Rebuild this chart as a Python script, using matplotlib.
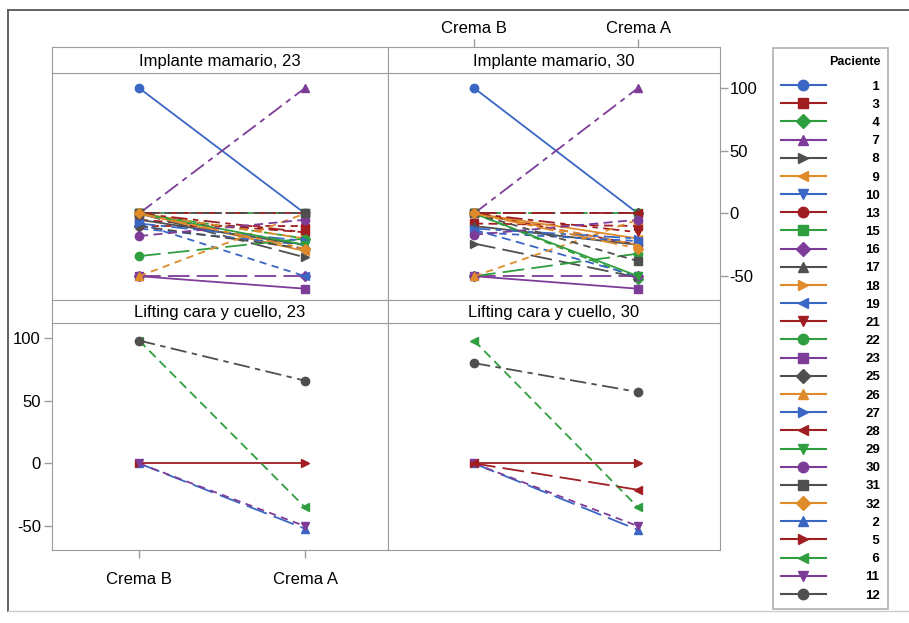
import numpy as np
import matplotlib.pyplot as plt
from matplotlib.lines import Line2D

plt.rcParams['font.family'] = ['Liberation Sans', 'DejaVu Sans']
plt.rcParams['axes.unicode_minus'] = False

tratamientos = ['Crema B', 'Crema A']

# orden de la leyenda (Minitab asigna color / simbolo / linea en este orden)
pacientes = [1, 3, 4, 7, 8, 9, 10, 13, 15, 16, 17, 18, 19, 21, 22,
             23, 25, 26, 27, 28, 29, 30, 31, 32, 2, 5, 6, 11, 12]

# Implante mamario
impl_pac = [1, 3, 4, 7, 8, 9, 10, 13, 15, 16, 17, 18, 19, 21, 22,
            23, 25, 26, 27, 28, 29, 30, 31, 32]
impl23_b = [100, -5, 0, 0, 0, 0, -12, -10, 0, -50, -5, 0, -8, 0, -34,
            -50, -10, -50, -8, 0, 0, -18, 0, 0]
impl23_a = [0, -15, -20, 100, -35, -30, -25, -10, 0, -50, -25, -20, -50, -15, -20,
            -60, -28, 0, -22, 0, -25, -5, 0, -28]
impl30_b = [100, -8, 0, 0, -24, 0, -13, 0, 0, -50, -10, 0, -15, 0, -50,
            -50, 0, -50, -12, 0, 0, -17, 0, 0]
impl30_a = [0, -10, -52, 100, -51, -20, -50, -25, 0, -50, -25, -25, -22, -15, -32,
            -60, 0, -5, -20, 0, -50, -5, -38, -28]

# Lifting cara y cuello
lift23_pac = [2, 5, 6, 11, 12]
lift23_b = [0, 0, 98, 0, 98]
lift23_a = [-52, 0, -35, -50, 66]
lift30_pac = [2, 5, 6, 11, 12, 28]
lift30_b = [0, 0, 98, 0, 80, 0]
lift30_a = [-53, 0, -35, -50, 57, -21]

colores = ['#3a66c4', '#a01e22', '#2f9e3f', '#7d3c98', '#4f4f4f', '#e08b2a']
marcadores = ['o', 's', 'D', '^', '>', '<', 'v']
lineas = ['-', (0, (5, 3)), (0, (4, 3)), (0, (9, 3, 3, 3)), (0, (12, 4))]
gris = '#a29a9a'


def estilo(p):
    i = pacientes.index(p)
    m = marcadores[i % 7]
    return dict(color=colores[i % 6], marker=m, ls=lineas[i % 5],
                ms=5 if m == 'D' else 6)


W, H = 909, 623
fig = plt.figure(figsize=(W / 100, H / 100), dpi=100)


def rect(x0, y0, x1, y1):
    return [x0 / W, 1 - y1 / H, (x1 - x0) / W, (y1 - y0) / H]


cols = [(52, 388), (388, 720)]
rows = [(47, 73, 300), (300, 323, 550)]
paneles = [
    ('Implante mamario, 23', impl_pac, impl23_b, impl23_a),
    ('Implante mamario, 30', impl_pac, impl30_b, impl30_a),
    ('Lifting cara y cuello, 23', lift23_pac, lift23_b, lift23_a),
    ('Lifting cara y cuello, 30', lift30_pac, lift30_b, lift30_a),
]
xpos = np.arange(1, len(tratamientos) + 1)

for k, (titulo, pac, vb, va) in enumerate(paneles):
    r, c = divmod(k, 2)
    x0, x1 = cols[c]
    yh, yp, yb = rows[r]
    ax = fig.add_axes(rect(x0, yp, x1, yb))
    hd = fig.add_axes(rect(x0, yh, x1, yp))
    for p, b, a in zip(pac, vb, va):
        ax.plot(xpos, [b, a], lw=1.3, **estilo(p))
    ax.set_xlim(0.475, 2.5)
    ax.set_ylim(-69, 112)
    hd.set_xlim(ax.get_xlim())
    hd.text(0.5, 0.45, titulo, transform=hd.transAxes, ha='center',
            va='center', fontsize=12)
    for a_ in (ax, hd):
        for s in a_.spines.values():
            s.set_color(gris)
        a_.tick_params(length=0, labelbottom=False, labelleft=False,
                       colors=gris, labelcolor='black', labelsize=12)
        a_.set_yticks([])
        a_.set_xticks([])
    if k == 1:
        hd.set_xticks(xpos, tratamientos)
        hd.xaxis.tick_top()
        hd.tick_params(length=6, width=1, labeltop=True, pad=2)
        ax.set_yticks([-50, 0, 50, 100])
        ax.yaxis.tick_right()
        ax.tick_params(length=6, width=1, labelright=True, pad=1)
    if k == 2:
        ax.set_xticks(xpos, tratamientos)
        ax.set_yticks([-50, 0, 50, 100])
        ax.tick_params(length=6, width=1, labelbottom=True, labelleft=True,
                       pad=2)
        ax.tick_params(axis='x', pad=10)

# leyenda
handles = [Line2D([], [], color=estilo(p)['color'], marker=estilo(p)['marker'],
                  ls='-', lw=1.5, ms=7.5) for p in pacientes]
etiquetas = [str(p).rjust(2, '\u2007') for p in pacientes]
leg = fig.legend(handles, etiquetas, title='Paciente', loc='upper left',
                 bbox_to_anchor=(773 / W, 1 - 48 / H), frameon=True,
                 fancybox=False, edgecolor=gris, handlelength=3.4,
                 handletextpad=3.0, labelspacing=0.45, borderpad=0.6,
                 borderaxespad=0, alignment='right',
                 prop={'size': 9.5, 'weight': 'bold'},
                 title_fontproperties={'size': 9, 'weight': 'bold'})
leg._legend_box.sep = 9
leg.get_frame().set_linewidth(1.2)

# marco de la pagina
fig.add_artist(Line2D([8 / W, 8 / W], [1 - 10 / H, 1 - 611 / H],
                      transform=fig.transFigure, color='#555555', lw=1.3))
fig.add_artist(Line2D([8 / W, 1], [1 - 10 / H, 1 - 10 / H],
                      transform=fig.transFigure, color='#555555', lw=1.3))
fig.add_artist(Line2D([8 / W, 1], [1 - 611 / H, 1 - 611 / H],
                      transform=fig.transFigure, color='#cccccc', lw=1))

fig.savefig('out.png', dpi=100)
